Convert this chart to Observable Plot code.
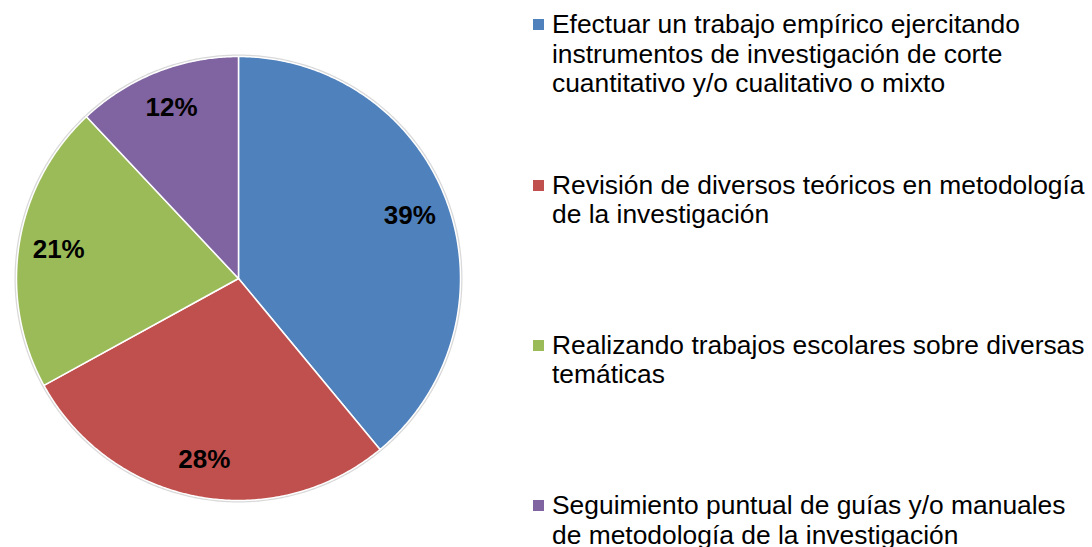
<!DOCTYPE html>
<html>
<head>
<meta charset="utf-8">
<script src="https://cdn.jsdelivr.net/npm/d3@7"></script>
<script src="https://cdn.jsdelivr.net/npm/@observablehq/plot@0.6"></script>
<style>
  html, body { margin: 0; padding: 0; background: #fff; }
  #wrap { position: relative; width: 1092px; height: 547px; overflow: hidden; font-family: "Liberation Sans", Arial, sans-serif; }
  #chart { position: absolute; left: 0; top: 0; }
  .item { position: absolute; left: 533px; font-size: 26.4px; line-height: 29.5px; color: #000; white-space: pre; }
  .sw { position: absolute; left: 0; top: 9px; width: 11px; height: 11px; }
  .lab { position: absolute; left: 19px; top: 0; }
</style>
</head>
<body>
<div id="wrap"><div id="chart"></div></div>
<script>
const categories = [
  "Efectuar un trabajo empírico ejercitando\ninstrumentos de investigación de corte\ncuantitativo y/o cualitativo o mixto",
  "Revisión de diversos teóricos en metodología\nde la investigación",
  "Realizando trabajos escolares sobre diversas\ntemáticas",
  "Seguimiento puntual de guías y/o manuales\nde metodología de la investigación"
];
const values = [39, 28, 21, 12];
const labels = ["39%", "28%", "21%", "12%"];
const colors = ["#4F81BD", "#C0504D", "#9BBB59", "#8064A2"];

const arcs = d3.pie().sort(null).value(d => d)(values);

// polygon points for each slice (angles clockwise from 12 o'clock)
const pts = [];
arcs.forEach((a, i) => {
  const cat = categories[i];
  pts.push({cat, x: 0, y: 0});
  const n = Math.max(2, Math.ceil((a.endAngle - a.startAngle) / (Math.PI / 360)));
  for (let k = 0; k <= n; k++) {
    const t = a.startAngle + (a.endAngle - a.startAngle) * k / n;
    pts.push({cat, x: Math.sin(t), y: Math.cos(t)});
  }
});
const labelPts = arcs.map((a, i) => {
  const m = (a.startAngle + a.endAngle) / 2;
  return {label: labels[i], x: 0.82 * Math.sin(m), y: 0.83 * Math.cos(m)};
});
const ring = d3.range(0, 721).map(k => ({x: Math.sin(k * Math.PI / 360), y: Math.cos(k * Math.PI / 360)}));

const plot = Plot.plot({
  width: 1092,
  height: 547,
  marginLeft: 16,
  marginRight: 632,
  marginTop: 56,
  marginBottom: 47,
  x: {domain: [-1, 1], axis: null},
  y: {domain: [-1, 1], axis: null},
  color: {domain: categories, range: colors},
  style: {fontFamily: "'Liberation Sans', Arial, sans-serif", background: "transparent"},
  marks: [
    Plot.line(ring, {x: "x", y: "y", stroke: "#d9d9d9", strokeWidth: 4, curve: "linear-closed"}),
    Plot.line(pts, {x: "x", y: "y", z: "cat", fill: "cat", stroke: "#fff", strokeWidth: 1.5, strokeLinejoin: "round", curve: "linear-closed"}),
    Plot.text(labelPts, {x: "x", y: "y", text: "label", fontSize: 26, fontWeight: "bold", fill: "#000"})
  ]
});
document.getElementById("chart").appendChild(plot);

const wrap = document.getElementById("wrap");
categories.forEach((c, i) => {
  const div = document.createElement("div");
  div.className = "item";
  div.style.top = (10.2 + i * 160.3) + "px";
  const sw = document.createElement("div");
  sw.className = "sw";
  sw.style.background = colors[i];
  const lab = document.createElement("div");
  lab.className = "lab";
  lab.textContent = c;
  div.appendChild(sw);
  div.appendChild(lab);
  wrap.appendChild(div);
});
</script>
</body>
</html>
